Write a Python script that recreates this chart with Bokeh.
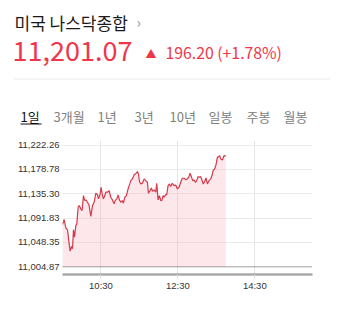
from bokeh.plotting import figure
from bokeh.layouts import column
from bokeh.models import Span, FixedTicker, NumeralTickFormatter, Range1d, ColumnDataSource
from bokeh.core.properties import value
from bokeh.embed import file_html
from bokeh.resources import INLINE

# ---- data ----
title_text = "미국 나스닥종합"
last_value = "11,201.07"
change_text = "196.20 (+1.78%)"
tabs = ["1일", "3개월", "1년", "3년", "10년", "일봉", "주봉", "월봉"]
prev_close = 11004.87
y_ticks = [11004.87, 11048.35, 11091.83, 11135.30, 11178.78, 11222.26]
x_tick_minutes = [60, 180, 300]          # minutes after 09:30
x_tick_labels = ["10:30", "12:30", "14:30"]

minutes = [0, 2.6, 5.2, 7.8, 10.4, 11.9, 14.0, 15.6, 17.1, 18.7, 20.8, 22.3, 24.4, 26.0, 28.6,
           30.6, 32.7, 34.8, 36.4, 39.0, 41.6, 44.2, 46.8, 49.4, 52.0, 54.5, 56.1, 58.7, 60.3,
           62.3, 63.9, 66.0, 67.5, 70.1, 72.7, 75.3, 77.9, 80.5, 82.1, 84.7, 86.8, 88.8, 90.9,
           93.5, 95.1, 97.1, 99.7, 102.3, 104.9, 106.5, 109.1, 111.7, 113.9, 116.9, 118.5,
           120.0, 122.1, 124.7, 127.3, 129.9, 132.5, 134.0, 136.6, 138.7, 140.3, 142.9, 145.5,
           147.0, 149.1, 151.2, 153.3, 154.8, 156.9, 158.4, 161.0, 162.6, 164.7, 166.8, 168.8,
           171.4, 174.0, 176.6, 179.2, 181.8, 184.4, 187.0, 189.6, 192.2, 194.8, 197.4, 199.0,
           201.0, 203.1, 205.2, 207.3, 209.4, 211.4, 213.5, 215.6, 218.2, 219.7, 221.8, 223.9,
           226.0, 228.6, 231.2, 233.8, 235.3, 237.4, 239.5, 241.6, 243.6, 245.2, 246.8, 249.4,
           252.0, 254.6]
values = [11080.5, 11089.2, 11074.4, 11070.8, 11045.9, 11032.8, 11041.1, 11037.0, 11070.8, 11057.8,
          11078.6, 11081.5, 11111.2, 11114.2, 11108.3, 11105.3, 11132.0, 11123.1, 11124.3, 11120.1,
          11114.2, 11094.6, 11114.2, 11120.1, 11136.2, 11133.8, 11126.1, 11135.0, 11146.9, 11132.0,
          11126.1, 11132.0, 11138.0, 11138.0, 11140.9, 11129.0, 11124.3, 11117.2, 11123.1, 11126.1,
          11133.2, 11124.3, 11120.1, 11123.1, 11118.4, 11129.0, 11132.0, 11143.9, 11152.8, 11158.7,
          11161.7, 11169.4, 11170.6, 11174.8, 11170.6, 11157.6, 11152.8, 11154.0, 11161.7, 11158.7,
          11155.8, 11136.2, 11140.9, 11145.7, 11139.7, 11142.1, 11138.0, 11154.0, 11124.3, 11132.0,
          11123.1, 11123.1, 11132.0, 11129.0, 11133.8, 11133.8, 11149.8, 11152.8, 11148.1, 11154.0,
          11149.8, 11151.0, 11143.9, 11146.9, 11155.8, 11162.9, 11162.9, 11160.5, 11161.7, 11165.9,
          11171.8, 11165.9, 11158.7, 11159.9, 11155.8, 11158.7, 11165.9, 11164.7, 11165.9, 11157.6,
          11152.8, 11157.0, 11163.5, 11152.8, 11158.7, 11161.7, 11170.6, 11177.8, 11179.5, 11187.2,
          11200.3, 11201.5, 11203.3, 11197.4, 11195.6, 11203.3, 11203.0]

RED = "#f0364a"
KR = value("Noto Sans CJK KR")
HEAD_H = 135

# ---- header figure (pixel coordinates, y downward) ----
h = figure(width=339, height=HEAD_H, output_backend="svg", toolbar_location=None,
           x_range=Range1d(0, 339), y_range=Range1d(HEAD_H, 0),
           min_border=0, min_border_left=0, min_border_right=0,
           min_border_top=0, min_border_bottom=0)
h.frame_align = False
h.axis.visible = False
h.grid.visible = False
h.outline_line_color = None

def txt(x, y, t, size, color):
    h.text(x=[x], y=[y], text=[t], text_font=KR, text_font_size=size,
           text_color=color, text_baseline="middle", text_align="left")

txt(14, 22, title_text, "17px", "#1a1a1a")
txt(136, 21, "›", "15px", "#999999")
txt(12, 50, last_value, "27px", RED)
txt(145, 52, "▲", "11px", RED)
txt(165, 52, change_text, "15.8px", RED)
h.segment(x0=[13], y0=[78.5], x1=[330], y1=[78.5], line_color="#ececec", line_width=1)

tab_x = [20, 53, 97, 134, 169, 208, 246, 283]
for i, (tx, tt) in enumerate(zip(tab_x, tabs)):
    txt(tx, 115.5, tt, "13px", "#111111" if i == 0 else "#808080")
h.segment(x0=[20], y0=[123.5], x1=[41], y1=[123.5], line_color="#111111", line_width=1)

# ---- chart figure ----
src = ColumnDataSource(dict(t=minutes, v=values, base=[prev_close] * len(values)))

p = figure(width=339, height=317 - HEAD_H, output_backend="svg", toolbar_location=None,
           x_range=Range1d(0, 390), y_range=Range1d(10991.13, 11230.32),
           min_border_left=62, min_border_right=27, min_border_top=140 - HEAD_H,
           min_border_bottom=43)
p.frame_align = False
p.outline_line_color = None

p.xgrid.ticker = FixedTicker(ticks=x_tick_minutes)
p.ygrid.ticker = FixedTicker(ticks=y_ticks[1:])
p.xgrid.grid_line_color = "#e6e6e6"
p.ygrid.grid_line_color = "#ebebeb"

p.varea(x="t", y1="base", y2="v", source=src, fill_color="#f7a1ab", fill_alpha=0.25)
p.line(x="t", y="v", source=src, line_color="#d5394a", line_width=1.2)

p.add_layout(Span(location=prev_close, dimension="width", line_color="#444444",
                  line_dash="1 1", line_width=1))

xa = p.xaxis[0]
xa.ticker = FixedTicker(ticks=x_tick_minutes)
xa.major_label_overrides = {m: s for m, s in zip(x_tick_minutes, x_tick_labels)}
xa.axis_line_color = "#aaaaaa"
xa.axis_line_width = 2.5
xa.major_tick_line_color = "#dddddd"
xa.major_tick_in = 0
xa.major_tick_out = 4
xa.minor_tick_line_color = None
xa.major_label_standoff = 1
xa.major_label_text_font = "Liberation Sans"
xa.major_label_text_font_size = "9.5px"
xa.major_label_text_color = "#333333"

ya = p.yaxis[0]
ya.ticker = FixedTicker(ticks=y_ticks)
ya.formatter = NumeralTickFormatter(format="0,0.00")
ya.axis_line_color = None
ya.major_tick_line_color = None
ya.minor_tick_line_color = None
ya.major_tick_in = 0
ya.major_tick_out = 0
ya.major_label_standoff = 3
ya.major_label_text_font = "Liberation Sans"
ya.major_label_text_font_size = "9.5px"
ya.major_label_text_color = "#333333"

layout = column(h, p, spacing=0)
open("out.html", "w").write(file_html(layout, INLINE))
